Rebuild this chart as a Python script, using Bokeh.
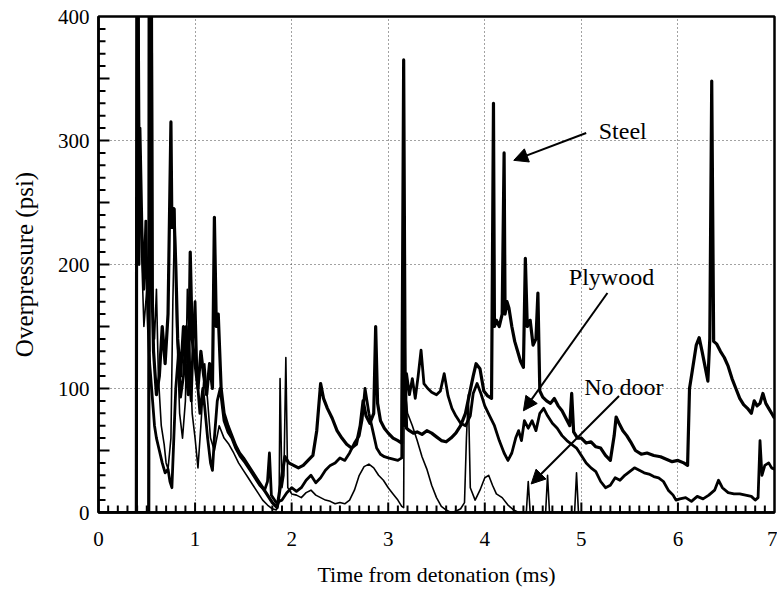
from bokeh.plotting import figure
from bokeh.models import FixedTicker, Label, Arrow, NormalHead, ColumnDataSource
from bokeh.embed import file_html
from bokeh.resources import INLINE

# ---------------- data (time in ms, overpressure in psi) ----------------
steel_t = [
    0.0, 0.52, 0.525, 0.545, 0.555, 0.57, 0.6, 0.63, 0.66, 0.69,
    0.72, 0.75, 0.76, 0.78, 0.8, 0.82, 0.85, 0.88, 0.9, 0.93,
    0.95, 0.97, 1.0, 1.03, 1.06, 1.09, 1.12, 1.15, 1.18, 1.2,
    1.22, 1.24, 1.27, 1.3, 1.34, 1.38, 1.42, 1.46, 1.5, 1.55,
    1.6, 1.65, 1.7, 1.75, 1.8, 1.85, 1.9, 1.93, 1.97, 2.02,
    2.07, 2.12, 2.17, 2.22, 2.26, 2.3, 2.33, 2.37, 2.42, 2.47,
    2.52, 2.57, 2.62, 2.67, 2.71, 2.74, 2.77, 2.81, 2.85, 2.87,
    2.89, 2.92, 2.96, 3.0, 3.05, 3.1, 3.14, 3.16, 3.175, 3.19,
    3.22, 3.26, 3.3, 3.35, 3.4, 3.45, 3.5, 3.55, 3.6, 3.65,
    3.7, 3.75, 3.8, 3.84, 3.88, 3.91, 3.95, 3.99, 4.03, 4.07,
    4.09, 4.1, 4.12, 4.15, 4.18, 4.2, 4.21, 4.23, 4.25, 4.28,
    4.31, 4.34, 4.37, 4.4, 4.42, 4.44, 4.47, 4.5, 4.53, 4.55,
    4.57, 4.6, 4.64, 4.68, 4.72, 4.76, 4.8, 4.84, 4.88, 4.9,
    4.92, 4.96, 5.0, 5.05, 5.1, 5.15, 5.2, 5.25, 5.3, 5.34,
    5.36, 5.39, 5.43, 5.47, 5.51, 5.56, 5.62, 5.68, 5.75, 5.82,
    5.88, 5.94, 6.0, 6.06, 6.1, 6.12, 6.15, 6.19, 6.22, 6.25,
    6.28, 6.31, 6.33, 6.35, 6.37, 6.4, 6.44, 6.48, 6.52, 6.56,
    6.6, 6.64, 6.68, 6.72, 6.76, 6.79, 6.82, 6.85, 6.88, 6.91,
    6.94, 6.97, 7.0,
]
steel_p = [
    0, 0, 460, 460, 180, 130, 95, 110, 150, 120,
    160, 315, 230, 245, 200, 140, 110, 150, 120, 95,
    210, 140, 120, 100, 130, 110, 95, 120, 100, 238,
    150, 160, 100, 80, 70, 62, 54, 48, 44, 38,
    32, 26, 20, 14, 8, 4, 30, 45, 40, 38,
    36, 38, 42, 46, 66, 104, 92, 84, 76, 66,
    60, 55, 52, 55, 70, 90, 78, 72, 80, 150,
    88, 74, 68, 64, 60, 58, 56, 365, 110, 68,
    66, 64, 65, 63, 66, 64, 61, 58, 57, 60,
    64, 70, 80, 95, 110, 120, 116, 98, 94, 92,
    330, 150, 155, 150, 160, 290, 160, 170, 165, 150,
    138, 130, 122, 117, 205, 150, 155, 135, 140, 177,
    98, 93, 90, 88, 92, 86, 82, 76, 70, 96,
    65, 60, 60, 56, 57, 53, 52, 46, 42, 62,
    77, 72, 66, 62, 57, 50, 47, 48, 46, 45,
    43, 41, 42, 40, 38, 100, 115, 135, 141, 130,
    118, 106, 140, 348, 138, 136, 130, 125, 118, 108,
    100, 92, 87, 84, 80, 90, 86, 88, 96, 88,
    84, 80, 76,
]

plywood_t = [
    0.0, 0.39, 0.395, 0.41, 0.42, 0.43, 0.45, 0.47, 0.49, 0.51,
    0.53, 0.56, 0.58, 0.6, 0.63, 0.66, 0.69, 0.72, 0.74, 0.76,
    0.78, 0.8, 0.83, 0.85, 0.88, 0.91, 0.93, 0.96, 0.98, 1.0,
    1.02, 1.05, 1.08, 1.1, 1.13, 1.16, 1.18, 1.2, 1.23, 1.26,
    1.3, 1.34, 1.38, 1.42, 1.47, 1.52, 1.57, 1.62, 1.67, 1.72,
    1.75, 1.77, 1.79, 1.84, 1.9, 1.95, 2.0, 2.05, 2.1, 2.15,
    2.2, 2.25, 2.3, 2.35, 2.4, 2.45, 2.5, 2.55, 2.6, 2.65,
    2.7, 2.73, 2.76, 2.8, 2.84, 2.88, 2.92, 2.96, 3.0, 3.05,
    3.1, 3.14, 3.155, 3.16, 3.165, 3.17, 3.19, 3.22, 3.25, 3.28,
    3.31, 3.34, 3.37, 3.41, 3.45, 3.5, 3.54, 3.58, 3.62, 3.66,
    3.7, 3.75, 3.8, 3.85, 3.88, 3.92, 3.96, 4.0, 4.05, 4.1,
    4.15, 4.2, 4.24, 4.28, 4.32, 4.35, 4.38, 4.41, 4.45, 4.49,
    4.53, 4.57, 4.61, 4.65, 4.7, 4.75, 4.8, 4.85, 4.9, 4.95,
    5.0, 5.05, 5.1, 5.15, 5.2, 5.25, 5.3, 5.35, 5.4, 5.45,
    5.5, 5.55, 5.6, 5.65, 5.7, 5.75, 5.8, 5.85, 5.9, 5.95,
    5.98, 6.02, 6.08, 6.14, 6.2, 6.26, 6.32, 6.38, 6.42, 6.46,
    6.52, 6.58, 6.64, 6.7, 6.76, 6.8, 6.83, 6.85, 6.87, 6.9,
    6.94, 6.97, 7.0,
]
plywood_p = [
    0, 0, 460, 460, 200, 310, 230, 180, 235, 160,
    120, 90, 70, 60, 50, 40, 32, 35, 25, 20,
    60, 100, 130, 93, 110, 150, 120, 90, 140, 170,
    110, 80, 100, 85, 60, 40, 34, 60, 90, 100,
    74, 65, 60, 52, 45, 40, 34, 28, 22, 18,
    25, 48, 14, 8, 10, 16, 20, 17, 20, 26,
    30, 24, 28, 34, 38, 40, 44, 42, 48, 56,
    62, 75, 100, 80, 66, 52, 47, 45, 44, 43,
    42, 44, 200, 80, 180, 70, 112, 95, 108, 92,
    110, 131, 104, 100, 97, 95, 98, 112, 94, 84,
    78, 72, 70, 78, 96, 104, 96, 86, 78, 70,
    58, 48, 42, 48, 60, 66, 58, 74, 68, 74,
    66, 80, 84, 78, 72, 68, 62, 58, 55, 52,
    46, 40, 36, 33, 25, 20, 22, 28, 26, 30,
    33, 36, 34, 32, 31, 29, 28, 25, 18, 14,
    10, 11, 12, 9, 13, 11, 14, 18, 26, 20,
    16, 15, 15, 14, 13, 10, 12, 58, 30, 38,
    40, 36, 35,
]

nodoor_t = [
    0.0, 0.4, 0.405, 0.415, 0.43, 0.45, 0.47, 0.5, 0.53, 0.545,
    0.555, 0.565, 0.58, 0.6, 0.62, 0.65, 0.68, 0.7, 0.72, 0.75,
    0.77, 0.79, 0.81, 0.84, 0.87, 0.9, 0.92, 0.94, 0.97, 1.0,
    1.03, 1.06, 1.1, 1.13, 1.16, 1.2, 1.25, 1.3, 1.35, 1.4,
    1.45, 1.5, 1.55, 1.6, 1.65, 1.7, 1.75, 1.8, 1.84, 1.87,
    1.88, 1.9, 1.92, 1.94, 1.96, 2.0, 2.05, 2.1, 2.15, 2.2,
    2.25, 2.3, 2.35, 2.4, 2.45, 2.5, 2.55, 2.6, 2.65, 2.7,
    2.75, 2.8, 2.85, 2.9, 2.95, 3.0, 3.05, 3.1, 3.14, 3.16,
    3.17, 3.18, 3.2, 3.25, 3.3, 3.35, 3.4, 3.45, 3.5, 3.55,
    3.6, 3.65, 3.7, 3.75, 3.79, 3.81, 3.83, 3.85, 3.9, 3.95,
    4.0, 4.04, 4.08, 4.12, 4.18, 4.24, 4.3, 4.35, 4.43, 4.45,
    4.47, 4.63, 4.65, 4.67, 4.93, 4.95, 4.97, 7.0,
]
nodoor_p = [
    0, 0, 460, 460, 250, 200, 150, 180, 130, 460,
    460, 160, 140, 180, 110, 70, 55, 40, 35, 60,
    170, 245, 150, 80, 60, 90, 180, 140, 80, 60,
    36, 70, 120, 90, 60, 50, 70, 60, 55, 48,
    40, 34, 28, 22, 16, 10, 6, 3, 2, 8,
    108, 20, 30, 125, 20, 15, 14, 12, 16, 18,
    14, 12, 10, 9, 7, 8, 7, 10, 18, 30,
    37, 39, 36, 30, 26, 20, 15, 10, 5, 4,
    190, 95, 80, 70, 58, 45, 35, 22, 12, 5,
    2, 0, 1, 3, 8, 60, 95, 20, 10, 18,
    28, 30, 22, 15, 12, 6, 2, 0, 0, 25,
    0, 0, 30, 0, 0, 32, 0, 0,
]

x_tick_labels = ["0", "1", "2", "3", "4", "5", "6", "7"]
y_tick_labels = ["0", "100", "200", "300", "400"]

ann_text = ["Steel", "Plywood", "No door"]
ann_text_x = [5.18, 4.87, 5.03]
ann_text_y = [308, 190, 101]
arrow_from_x = [5.05, 5.27, 5.39]
arrow_from_y = [306, 177, 94]
arrow_to_x = [4.30, 4.40, 4.48]
arrow_to_y = [284, 82, 23]

FONT = "Liberation Serif"
X0, X1, Y0, Y1 = 0, 7, 0, 400

p = figure(width=777, height=592, x_range=(X0, X1), y_range=(Y0, Y1),
           output_backend="svg", toolbar_location=None,
           min_border_left=98, min_border_right=3, min_border_top=16,
           min_border_bottom=80)
p.background_fill_color = "white"
p.border_fill_color = "white"
p.outline_line_color = "black"
p.outline_line_width = 2.5

p.xgrid.ticker = FixedTicker(ticks=[1, 2, 3, 4, 5, 6])
p.ygrid.ticker = FixedTicker(ticks=[100, 200, 300])
for g in (p.xgrid[0], p.ygrid[0]):
    g.grid_line_color = "#444444"
    g.grid_line_dash = "1 3"
    g.grid_line_width = 1

for t, v, w in [(plywood_t, plywood_p, 2.8), (nodoor_t, nodoor_p, 1.6),
                (steel_t, steel_p, 3.2)]:
    src = ColumnDataSource(dict(t=t, v=v))
    p.line("t", "v", source=src, line_color="black", line_width=w,
           line_join="round")

# inward tick marks: every 0.1 ms / 10 psi, longer at whole ms / 50 psi
px_x = (X1 - X0) / 676.0   # ms per pixel
px_y = (Y1 - Y0) / 496.0   # psi per pixel
bx = [k / 10 for k in range(1, 70)]
bl = [10 if k % 10 == 0 else 7 for k in range(1, 70)]
p.segment(x0=bx, y0=[Y0] * len(bx), x1=bx, y1=[Y0 + L * px_y for L in bl],
          line_color="black", line_width=2)
ly = [k * 10 for k in range(1, 40)]
ll = [11 if k % 5 == 0 else 7 for k in range(1, 40)]
p.segment(x0=[X0] * len(ly), y0=ly, x1=[X0 + L * px_x for L in ll], y1=ly,
          line_color="black", line_width=2)

# axes
p.xaxis.ticker = FixedTicker(ticks=list(range(8)))
p.yaxis.ticker = FixedTicker(ticks=[0, 100, 200, 300, 400])
p.xaxis.major_label_overrides = {i: x_tick_labels[i] for i in range(8)}
p.yaxis.major_label_overrides = {k * 100: y_tick_labels[k] for k in range(5)}
for ax in (p.xaxis[0], p.yaxis[0]):
    ax.axis_line_color = "black"
    ax.axis_line_width = 2.5
    ax.major_tick_in = 0
    ax.major_tick_out = 0
    ax.minor_tick_line_color = None
    ax.major_label_text_font = FONT
    ax.major_label_text_font_size = "21px"
    ax.major_label_text_color = "black"
    ax.axis_label_text_font = FONT
    ax.axis_label_text_font_style = "normal"
    ax.axis_label_text_color = "black"

p.xaxis.axis_label = "Time from detonation (ms)"
p.xaxis.axis_label_text_font_size = "22px"
p.xaxis.major_label_standoff = 19
p.xaxis.axis_label_standoff = 13
p.yaxis.axis_label = "Overpressure (psi)"
p.yaxis.axis_label_text_font_size = "25px"
p.yaxis.major_label_standoff = 9
p.yaxis.axis_label_standoff = 17

for i in range(3):
    p.add_layout(Label(x=ann_text_x[i], y=ann_text_y[i], text=ann_text[i],
                       text_font=FONT, text_font_size="24px",
                       text_baseline="middle", text_align="left",
                       text_color="black"))
    p.add_layout(Arrow(end=NormalHead(size=14, fill_color="black",
                                      line_color="black"),
                       x_start=arrow_from_x[i], y_start=arrow_from_y[i],
                       x_end=arrow_to_x[i], y_end=arrow_to_y[i],
                       line_width=2, line_color="black"))

open("out.html", "w").write(file_html(p, INLINE))
